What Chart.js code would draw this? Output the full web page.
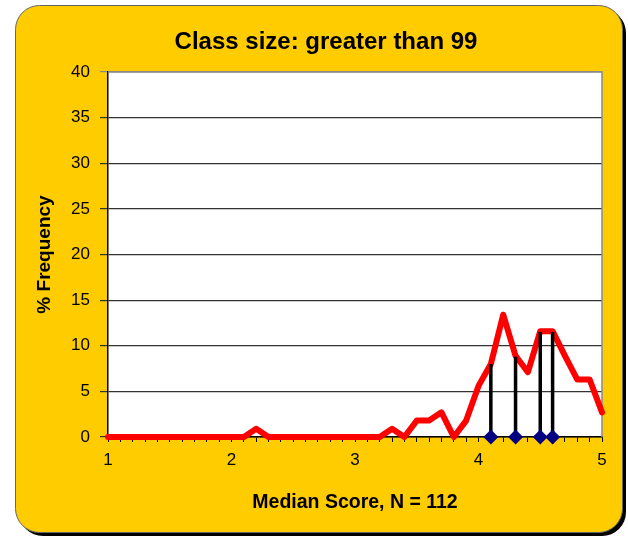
<!DOCTYPE html>
<html>
<head>
<meta charset="utf-8">
<script src="https://cdn.jsdelivr.net/npm/chart.js@4/dist/chart.umd.min.js"></script>
<style>
  html, body { margin: 0; padding: 0; background: #fff; }
  #chart { display: block; }
</style>
</head>
<body>
<canvas id="chart" width="628" height="537"></canvas>
<script>
const chartTitle = 'Class size: greater than 99';
const scores = [1.0, 1.1, 1.2, 1.3, 1.4, 1.5, 1.6, 1.7, 1.8, 1.9,
                2.0, 2.1, 2.2, 2.3, 2.4, 2.5, 2.6, 2.7, 2.8, 2.9,
                3.0, 3.1, 3.2, 3.3, 3.4, 3.5, 3.6, 3.7, 3.8, 3.9,
                4.0, 4.1, 4.2, 4.3, 4.4, 4.5, 4.6, 4.7, 4.8, 4.9, 5.0];
const frequency = [0, 0, 0, 0, 0, 0, 0, 0, 0, 0,
                   0, 0, 0.9, 0, 0, 0, 0, 0, 0, 0,
                   0, 0, 0, 0.9, 0, 1.8, 1.8, 2.7, 0, 1.8,
                   5.6, 8.0, 13.4, 8.9, 7.1, 11.6, 11.6, 8.9, 6.3, 6.3, 2.7];
const markScores = [4.1, 4.3, 4.5, 4.6];
const markHeights = [8.0, 8.8, 11.5, 11.5];
const yTicks = [0, 5, 10, 15, 20, 25, 30, 35, 40];

const lineData = scores.map((s, i) => ({ x: s, y: frequency[i] }));
const stemData = [];
markScores.forEach((s, i) => {
    stemData.push({ x: s, y: 0 }, { x: s, y: markHeights[i] }, { x: s, y: null });
});

const frame = {
    id: 'frame',
    beforeDraw(chart) {
        const c = chart.ctx;
        const a = chart.chartArea;
        c.save();
        c.fillStyle = '#fff';
        c.fillRect(0, 0, chart.width, chart.height);
        // shadow then yellow box
        c.fillStyle = '#000';
        c.beginPath();
        c.roundRect(19, 9, 607, 527, 24);
        c.fill();
        c.fillStyle = '#FFCC00';
        c.strokeStyle = '#666';
        c.lineWidth = 1;
        c.beginPath();
        c.roundRect(15.5, 5.5, 607, 527, 24);
        c.fill();
        c.stroke();
        c.fillStyle = '#fff';
        c.fillRect(a.left, a.top, a.right - a.left, a.bottom - a.top);
        // title
        c.fillStyle = '#000';
        c.font = 'bold 24px "Liberation Sans", Arial, sans-serif';
        c.textAlign = 'center';
        c.textBaseline = 'middle';
        c.fillText(chartTitle, 326, 42);
        c.restore();
    },
    beforeDatasetsDraw(chart) {
        const c = chart.ctx;
        const a = chart.chartArea;
        c.save();
        c.strokeStyle = '#8a8a8a';
        c.lineWidth = 1.5;
        c.beginPath();
        c.moveTo(a.left, a.top);
        c.lineTo(a.right, a.top);
        c.lineTo(a.right, a.bottom);
        c.stroke();
        c.restore();
    }
};

new Chart(document.getElementById('chart'), {
    type: 'line',
    data: {
        datasets: [{
            data: stemData,
            borderColor: '#000',
            borderWidth: 3.5,
            spanGaps: false,
            pointStyle: 'rectRot',
            pointRadius: (ctx) => (ctx.raw && ctx.raw.y === 0 ? 7.5 : 0),
            pointBackgroundColor: '#000080',
            pointBorderColor: '#000080',
            pointBorderWidth: 0,
            clip: false
        }, {
            data: lineData,
            borderColor: '#FF0000',
            borderWidth: 6,
            borderCapStyle: 'round',
            borderJoinStyle: 'round',
            tension: 0,
            pointRadius: 0,
            clip: false
        }]
    },
    options: {
        responsive: false,
        animation: false,
        events: [],
        layout: { padding: { left: 15, right: 26, top: 72, bottom: 10 } },
        plugins: {
            legend: { display: false },
            tooltip: { enabled: false },
            title: { display: false }
        },
        scales: {
            x: {
                type: 'linear',
                min: 1,
                max: 5,
                afterFit: (s) => { s.height = 90; },
                ticks: {
                    stepSize: 0.1,
                    autoSkip: false,
                    maxRotation: 0,
                    padding: 8,
                    color: '#000',
                    font: { family: 'Liberation Sans, Arial, sans-serif', size: 17 },
                    callback: (v) => (Math.abs(v - Math.round(v)) < 1e-6 ? String(Math.round(v)) : '')
                },
                grid: { drawOnChartArea: false, tickLength: 5, color: '#000', lineWidth: 1 },
                border: { color: '#000', width: 1.5 },
                title: {
                    display: true,
                    text: 'Median Score, N = 112',
                    color: '#000',
                    font: { family: 'Liberation Sans, Arial, sans-serif', size: 19.5, weight: 'bold' },
                    padding: { top: 0, bottom: 13 }
                }
            },
            y: {
                min: 0,
                max: 40,
                afterFit: (s) => { s.width = 93; },
                afterBuildTicks: (s) => { s.ticks = yTicks.map((v) => ({ value: v })); },
                ticks: {
                    padding: 10,
                    color: '#000',
                    font: { family: 'Liberation Sans, Arial, sans-serif', size: 17 }
                },
                grid: {
                    tickLength: 8,
                    lineWidth: 1.2,
                    color: (ctx) => (ctx.tick && ctx.tick.value === 40 ? '#8a8a8a' : '#333')
                },
                border: { color: '#000', width: 1.5 },
                title: {
                    display: true,
                    text: '% Frequency',
                    color: '#000',
                    font: { family: 'Liberation Sans, Arial, sans-serif', size: 19, weight: 'bold' },
                    padding: { top: 18, bottom: 0 }
                }
            }
        }
    },
    plugins: [frame]
});
</script>
</body>
</html>
